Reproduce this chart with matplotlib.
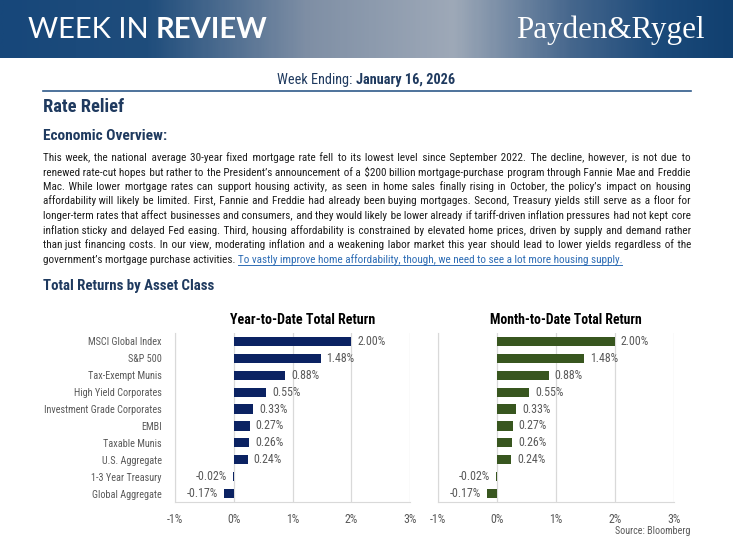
import matplotlib
matplotlib.use('Agg')
import matplotlib.pyplot as plt
import numpy as np
from matplotlib import font_manager as fm
from matplotlib.ft2font import FT2Font
from matplotlib.colors import LinearSegmentedColormap
from matplotlib.lines import Line2D

W, H = 733, 546

# pick a narrow sans if one is installed
names = {f.name for f in fm.fontManager.ttflist}
STRETCH = 'normal'
NARROW = 'Liberation Sans'
for cand in ['Roboto Condensed', 'Liberation Sans Narrow', 'Open Sans Condensed', 'Noto Sans Condensed']:
    if cand in names:
        NARROW = cand
        break
SANS = 'Lato'

# a small space glyph for justifying lines inside one text object
font_file = fm.findfont(fm.FontProperties(family=NARROW))
ft = FT2Font(font_file)
PAD = None
for cp in (0x200A, 0x2009, 0x2006, 0x2005):
    if ft.get_char_index(cp):
        PAD = chr(cp)
        break

# data
categories = ['MSCI Global Index', 'S&P 500', 'Tax-Exempt Munis', 'High Yield Corporates',
              'Investment Grade Corporates', 'EMBI', 'Taxable Munis', 'U.S. Aggregate',
              '1-3 Year Treasury', 'Global Aggregate']
ytd_returns = [2.00, 1.48, 0.88, 0.55, 0.33, 0.27, 0.26, 0.24, -0.02, -0.17]
mtd_returns = [2.00, 1.48, 0.88, 0.55, 0.33, 0.27, 0.26, 0.24, -0.02, -0.17]
x_ticks = [-1, 0, 1, 2, 3]
x_tick_labels = ['-1%', '0%', '1%', '2%', '3%']

paragraph = [
    "This week, the national average 30-year fixed mortgage rate fell to its lowest level since September 2022. The decline, however, is not due to",
    "renewed rate-cut hopes but rather to the President\u2019s announcement of a $200 billion mortgage-purchase program through Fannie Mae and Freddie",
    "Mac. While lower mortgage rates can support housing activity, as seen in home sales finally rising in October, the policy\u2019s impact on housing",
    "affordability will likely be limited. First, Fannie and Freddie had already been buying mortgages. Second, Treasury yields still serve as a floor for",
    "longer-term rates that affect businesses and consumers, and they would likely be lower already if tariff-driven inflation pressures had not kept core",
    "inflation sticky and delayed Fed easing. Third, housing affordability is constrained by elevated home prices, driven by supply and demand rather",
    "than just financing costs. In our view, moderating inflation and a weakening labor market this year should lead to lower yields regardless of the",
]
last_line = "government\u2019s mortgage purchase activities. "
link_text = "To vastly improve home affordability, though, we need to see a lot more housing supply."

NAVY = '#0b2262'
GREEN = '#38561f'
HEAD = '#1f3a5f'
GRAY = '#595959'
TEXT = '#1e1e1e'

fig = plt.figure(figsize=(W / 100, H / 100), dpi=100)
fig.patch.set_facecolor('white')
r = fig.canvas.get_renderer()


def fx(x):
    return x / W


def fy(y):
    return 1 - y / H


def width(t):
    return t.get_window_extent(r).width


def fit(t, target):
    # scale font so the text spans about the same width as in the reference
    t.set_fontsize(t.get_fontsize() * target / width(t))
    return t


def ntext(x, y, s, **kw):
    kw.setdefault('family', NARROW)
    kw.setdefault('fontstretch', STRETCH)
    return fig.text(fx(x), fy(y), s, **kw)


# banner
bax = fig.add_axes([0, fy(58), 1, 58 / H])
cmap = LinearSegmentedColormap.from_list('ban', [(0, '#17477a'), (0.2, '#1f4d7c'), (0.42, '#7f8fa5'),
                                                 (0.62, '#9ea9b8'), (0.78, '#46678d'), (0.9, '#1c4a7a'),
                                                 (1, '#114070')])
grad = np.tile(np.linspace(0, 1, 300), (20, 1))
bax.imshow(grad, aspect='auto', cmap=cmap, extent=[0, 1, 0, 1])
bax.axis('off')
t0 = fig.text(fx(28), fy(30), 'WEEK IN ', color='white', fontsize=21, family=SANS, va='center')
w0 = width(t0)
fig.text(fx(28 + w0), fy(30), 'REVIEW', color='white', fontsize=21, family=SANS,
         fontweight='bold', va='center')
tp = fig.text(fx(705), fy(30), 'Payden&Rygel', color='white', fontsize=20, family='Liberation Serif',
              ha='right', va='center')
fit(tp, 188)

# week ending
ta = ntext(0, 80, 'Week Ending: ', color=HEAD, fontsize=10, va='center')
tb = ntext(0, 80, 'January 16, 2026', color=HEAD, fontsize=10, fontweight='bold', va='center')
scale = 177 / (width(ta) + width(tb))
ta.set_fontsize(10 * scale)
tb.set_fontsize(10 * scale)
wa, wb = width(ta), width(tb)
xs = 366 - (wa + wb) / 2
ta.set_x(fx(xs))
tb.set_x(fx(xs + wa))
fig.add_artist(Line2D([fx(43), fx(691)], [fy(91), fy(91)], color='#2f5a8a', lw=1.2))

fit(ntext(43, 107, 'Rate Relief', color=HEAD, fontsize=13.5, fontweight='bold', va='center'), 81)
fit(ntext(43, 136, 'Economic Overview:', color=HEAD, fontsize=11.5, fontweight='bold', va='center'), 124)

# justified paragraph: one text per line, extra small spaces after each word gap
x0, x1 = 43, 691
line_ys = [157 + i * 14.5 for i in range(8)]
base = 4
fs = 8.6
probe = ntext(0, 0, max(paragraph, key=len), fontsize=fs)
need = max(width(ntext(0, 0, s, fontsize=fs)) for s in paragraph)
fig.texts[-(len(paragraph) + 1):] = []
fs = fs * min(1.0, (x1 - x0 - 4) / need)

for line, y in zip(paragraph, line_ys):
    t = ntext(x0, y + base, line, fontsize=fs, color=TEXT, va='baseline')
    words = line.split(' ')
    gaps = len(words) - 1
    deficit = (x1 - x0) - width(t)
    if PAD is not None and deficit > 0:
        pw = width(ntext(0, 0, 'a' + PAD * 10 + 'a', fontsize=fs)) - width(ntext(0, 0, 'aa', fontsize=fs))
        fig.texts[-2:] = []
        pw /= 10
        total = int(round(deficit / pw))
        out = words[0]
        for i, w in enumerate(words[1:]):
            k = (total * (i + 1)) // gaps - (total * i) // gaps
            out += ' ' + PAD * k + w
        t.set_text(out)

yl = line_ys[-1]
tl = ntext(x0, yl + base, last_line, fontsize=fs, color=TEXT, va='baseline')
wl = width(tl)
tk = ntext(x0 + wl, yl + base, link_text, fontsize=fs, color='#2e6db5', va='baseline')
wk = width(tk)
fig.add_artist(Line2D([fx(x0 + wl), fx(x0 + wl + wk)], [fy(yl + 6), fy(yl + 6)],
                      color='#2e6db5', lw=0.7))

fit(ntext(43, 286, 'Total Returns by Asset Class', color=HEAD, fontsize=11.5, fontweight='bold',
          va='center'), 173)

# sizes for chart texts, fitted to reference widths
probe = ntext(0, 0, 'Investment Grade Corporates', fontsize=8.3)
cat_fs = 8.3 * 116 / width(probe)
probe2 = ntext(0, 0, '2.00%', fontsize=8.5)
val_fs = 8.5 * 28 / width(probe2)
fig.texts[-2:] = []


def bar_chart(left, right, values, color, title, title_w, show_labels):
    ax = fig.add_axes([fx(left), fy(502), fx(right - left), 169 / H])
    y = np.arange(len(values))
    ax.barh(y, values, height=0.55, color=color, zorder=3)
    ax.set_xlim(-1, 3)
    ax.set_ylim(len(values) - 0.5, -0.5)
    ax.set_xticks(x_ticks)
    ax.set_xticklabels(x_tick_labels, fontsize=val_fs, family=NARROW, fontstretch=STRETCH, color=GRAY)
    ax.tick_params(axis='x', length=0, pad=8)
    ax.grid(axis='x', color='#d9d9d9', lw=0.9, zorder=0)
    ax.set_yticks(y)
    if show_labels:
        ax.set_yticklabels(categories, fontsize=cat_fs, family=NARROW, fontstretch=STRETCH, color=GRAY)
    else:
        ax.set_yticklabels([])
    ax.tick_params(axis='y', length=0, pad=9.5)
    for s in ['top', 'right']:
        ax.spines[s].set_visible(False)
    ax.spines['left'].set_color('#d9d9d9')
    ax.spines['bottom'].set_color('#d9d9d9')
    for yi, v in zip(y, values):
        lab = '%.2f%%' % v
        if v >= 0:
            ax.text(v + 0.1, yi, lab, va='center', ha='left', fontsize=val_fs, family=NARROW,
                    fontstretch=STRETCH, color=GRAY)
        else:
            ax.text(v - 0.1, yi, lab, va='center', ha='right', fontsize=val_fs, family=NARROW,
                    fontstretch=STRETCH, color=GRAY)
    fit(ntext((left + right) / 2 + 10, 320, title, ha='center', va='center', fontsize=10,
              fontweight='bold', color='black'), title_w)
    return ax


bar_chart(175, 410, ytd_returns, NAVY, 'Year-to-Date Total Return', 145, True)
bar_chart(438, 674, mtd_returns, GREEN, 'Month-to-Date Total Return', 152, False)

fit(ntext(690, 531, 'Source: Bloomberg', ha='right', va='center', fontsize=8, color=GRAY), 75)

fig.savefig('out.png', dpi=100)
